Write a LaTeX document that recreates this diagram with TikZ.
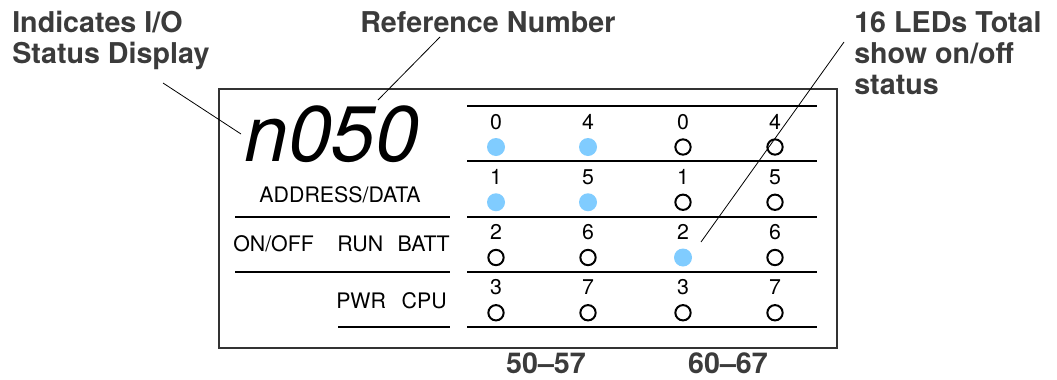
\documentclass[tikz,border=0pt]{standalone}
\usepackage{fontspec}
\setmainfont{TeX Gyre Heros}
\usetikzlibrary{positioning}
\definecolor{headgray}{HTML}{3B3B3B}
\definecolor{ledblue}{HTML}{80CCFF}

\begin{document}
\begin{tikzpicture}[x=0.75pt, y=-0.75pt,
  heading/.style={font=\fontsize{21.5}{23.25}\selectfont\bfseries, text=headgray, inner sep=0pt, align=left},
  panel/.style={font=\fontsize{16}{17}\selectfont, inner sep=0pt},
  bar/.style={line width=1.5pt},
  leader/.style={line width=0.6pt},
  ledon/.style={circle, fill=ledblue, minimum size=13.5pt, inner sep=0pt},
  ledoff/.style={circle, draw, line width=1.5pt, minimum size=11.5pt, inner sep=0pt}]
\useasboundingbox (0,0) rectangle (1057,379);

% callout texts (base = last line)
\node[heading, anchor=base west] (ioHead) at (12,63) {Indicates I/O\\Status Display};
\node[heading, anchor=base west] (refHead) at (360,32) {Reference Number};
\node[heading, anchor=base west] (ledHead) at (854,94) {16 LEDs Total\\show on/off\\status};

% display panel
\draw[black!80, line width=0.8pt] (219,89) rectangle (837,348);
\node[font=\fontsize{59}{62}\selectfont\itshape, inner sep=0pt, anchor=base west] (refNum) at (244,161) {n050};
\node[panel, anchor=base] (addr) at (340,202) {ADDRESS/DATA};
\draw[bar] (235,216.5) -- (450,216.5);
\draw[bar] (235,271.8) -- (450,271.8);
\draw[bar] (338,327) -- (450,327);
\node[panel, anchor=base west] (onoff) at (233,251) {ON/OFF};
\node[panel, anchor=base west] (run) at (337,251) {RUN};
\node[panel, anchor=base east] (batt) at (450,251) {BATT};
\node[panel, anchor=base west] (pwr) at (336,308) {PWR};
\node[panel, anchor=base east] (cpu) at (447,308) {CPU};

% LED block
\foreach \r in {0,...,4}
  \draw[bar] (467,{106+55.25*\r}) -- (817,{106+55.25*\r});
\foreach \x/\b in {496/0, 588/4, 683/0, 775/4}
  \foreach \r in {0,...,3} {
    \pgfmathtruncatemacro\d{\b+\r}
    \node[panel, anchor=base] (bit-\x-\r) at (\x,{129+55.25*\r}) {\d};
  }
\foreach \x/\r in {496/0, 496/1, 588/0, 588/1, 683/2}
  \node[ledon] (on-\x-\r) at (\x,{147+55.25*\r}) {};
\foreach \x/\r in {496/2, 496/3, 588/2, 588/3, 683/0, 683/1, 683/3, 775/0, 775/1, 775/2, 775/3}
  \node[ledoff] (off-\x-\r) at (\x,{147+55.25*\r}) {};

\node[heading, anchor=base] (grpA) at (546,373) {50--57};
\node[heading, anchor=base] (grpB) at (728,373) {60--67};

% leader lines
\coordinate (ioFrom) at (163,83);
\coordinate (ioTo) at (241,134);
\coordinate (refFrom) at (440,37);
\coordinate (refTo) at (378,100);
\coordinate (ledFrom) at (844,42);
\coordinate (ledTo) at (701,242);
\draw[leader] (ioFrom) -- (ioTo);
\draw[leader] (refFrom) -- (refTo);
\draw[leader] (ledFrom) -- (ledTo);
\end{tikzpicture}
\end{document}
